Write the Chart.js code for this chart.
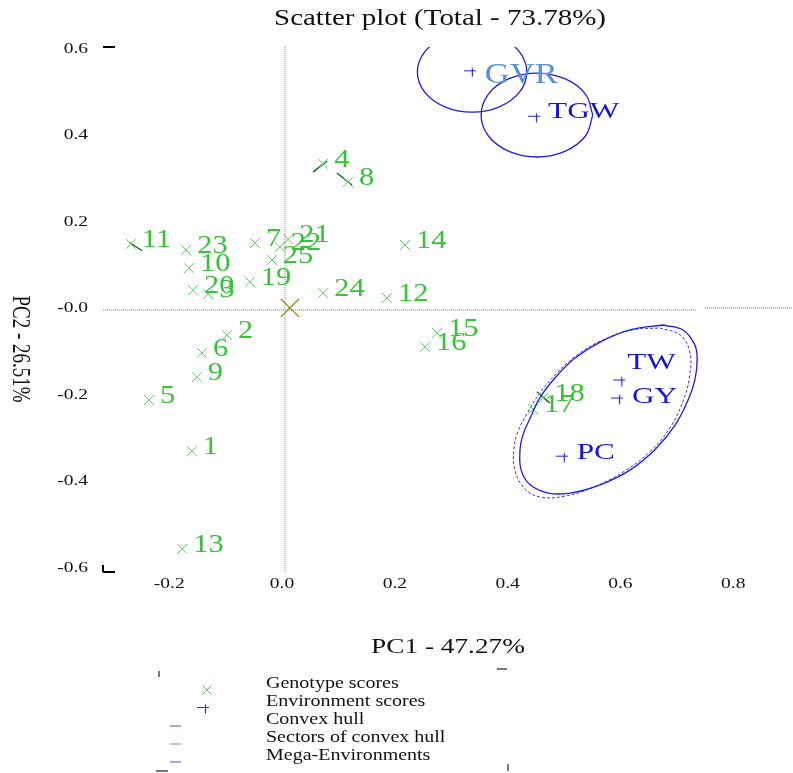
<!DOCTYPE html>
<html lang="en">
  <head>
    <meta charset="UTF-8" />
    <title>Scatter plot</title>
    <style>
      * {
        margin: 0;
        padding: 0;
      }
      body {
        background: white;
      }
      .chartBox {
        width: 793px;
        height: 773px;
      }
    </style>
  </head>
  <body>
    <div class="chartBox">
      <canvas id="myChart" width="793" height="773"></canvas>
    </div>

    <script src="https://cdn.jsdelivr.net/npm/chart.js"></script>
    <script>
      // genotype scores (PC1, PC2)
      const genoNames = ["1", "2", "3", "4", "5", "6", "7", "8", "9", "10", "11", "12", "13",
        "14", "15", "16", "17", "18", "19", "20", "21", "22", "23", "24", "25"];
      const genoX = [-0.160, -0.0975, -0.131, 0.073, -0.236, -0.142, -0.048, 0.117, -0.151,
        -0.165, -0.268, 0.186, -0.177, 0.218, 0.275, 0.2535, 0.445, 0.463, -0.057, -0.158,
        0.011, -0.004, -0.170, 0.073, -0.018];
      const genoY = [-0.332, -0.064, 0.031, 0.332, -0.214, -0.105, 0.149, 0.290, -0.161,
        0.091, 0.147, 0.022, -0.558, 0.1445, -0.059, -0.091, -0.235, -0.209, 0.059, 0.040,
        0.158, 0.140, 0.133, 0.0335, 0.110];

      // environment scores
      const envNames = ["GVR", "TGW", "TW", "GY", "PC"];
      const envX = [0.333, 0.447, 0.598, 0.594, 0.496];
      const envY = [0.545, 0.440, -0.170, -0.2116, -0.346];

      // origin of the sectors
      const originX = [0.014];
      const originY = [-0.001];

      // short convex hull pieces (null = break)
      const hullX = [-0.271, -0.248, null, 0.055, 0.080, null, 0.0975, 0.124, null, 0.452, 0.475];
      const hullY = [0.151, 0.131, null, 0.313, 0.339, null, 0.311, 0.283, null, -0.195, -0.221];

      // mega-environment outlines
      const gvrRingX = [0.337, 0.2885, 0.253, 0.240, 0.253, 0.2885, 0.337, 0.3855, 0.421, 0.434, 0.421, 0.3855, 0.337];
      const gvrRingY = [0.6375, 0.625, 0.591, 0.5445, 0.498, 0.464, 0.4515, 0.464, 0.498, 0.5445, 0.591, 0.625, 0.6375];
      const tgwRingX = [0.551, 0.538, 0.5015, 0.452, 0.4025, 0.366, 0.353, 0.366, 0.4025, 0.452, 0.5015, 0.538, 0.551];
      const tgwRingY = [0.445, 0.4935, 0.529, 0.542, 0.529, 0.4935, 0.445, 0.3965, 0.361, 0.348, 0.361, 0.3965, 0.445];
      const megaX = [0.6755, 0.711, 0.732, 0.736, 0.732, 0.720, 0.697, 0.661, 0.617, 0.564, 0.511,
        0.472, 0.440, 0.424, 0.422, 0.427, 0.440, 0.457, 0.484, 0.5195, 0.564, 0.617, 0.6755];
      const megaY = [-0.0405, -0.052, -0.087, -0.121, -0.168, -0.214, -0.272, -0.329, -0.376, -0.410, -0.429,
        -0.429, -0.410, -0.376, -0.329, -0.295, -0.2555, -0.209, -0.163, -0.117, -0.080, -0.052, -0.0405];
      const megaDashX = [0.670, 0.706, 0.723, 0.723, 0.713, 0.691, 0.656, 0.610, 0.557, 0.502, 0.457,
        0.429, 0.413, 0.411, 0.418, 0.436, 0.457, 0.486, 0.523, 0.569, 0.6205, 0.670];
      const megaDashY = [-0.0474, -0.0636, -0.103, -0.156, -0.209, -0.272, -0.329, -0.376, -0.413, -0.436, -0.438,
        -0.417, -0.376, -0.329, -0.288, -0.242, -0.198, -0.154, -0.110, -0.075, -0.052, -0.0474];

      // dotted reference lines
      const vLineX = [0.0053, 0.0053];
      const vLineY = [0.602, -0.614];
      const hLineX = [-0.3174, 0.736];
      const hLineY = [-0.0058, -0.0058];
      const hLine2X = [0.750, 0.906];
      const hLine2Y = [-0.001, -0.001];

      // axes
      const xTicks = [-0.2, 0.0, 0.2, 0.4, 0.6, 0.8];
      const xTickLabels = ["-0.2", "0.0", "0.2", "0.4", "0.6", "0.8"];
      const yTicks = [0.6, 0.4, 0.2, 0.0, -0.2, -0.4, -0.6];
      const yTickLabels = ["0.6", "0.4", "0.2", "-0.0", "-0.2", "-0.4", "-0.6"];

      const legendLabels = ["Genotype scores", "Environment scores", "Convex hull",
        "Sectors of convex hull", "Mega-Environments"];

      const SERIF = '"Liberation Serif", "Times New Roman", serif';
      const GREEN = "#38c238";
      const BLUE = "#1414dc";

      const pts = (xs, ys) => xs.map((x, i) => (x === null ? { x: null, y: null } : { x: x, y: ys[i] }));

      // environment marker: short "+" with the upright off to the right
      const envMark = document.createElement("canvas");
      envMark.width = 14;
      envMark.height = 11;
      const g = envMark.getContext("2d");
      g.strokeStyle = "#2424e0";
      g.lineWidth = 1.2;
      g.beginPath();
      g.moveTo(1, 4.5);
      g.lineTo(13, 4.5);
      g.moveTo(9.5, 1.5);
      g.lineTo(9.5, 10.5);
      g.stroke();

      // text drawn a little wider than the font, like the original export
      function wideText(ctx, text, x, y, size, color, align, sx) {
        ctx.save();
        ctx.translate(x, y);
        ctx.scale(sx, 1);
        ctx.font = size + "px " + SERIF;
        ctx.fillStyle = color;
        ctx.textAlign = align;
        ctx.textBaseline = "alphabetic";
        ctx.fillText(text, 0, 0);
        ctx.restore();
      }

      function seg(ctx, x1, y1, x2, y2, color, w) {
        ctx.save();
        ctx.strokeStyle = color;
        ctx.lineWidth = w;
        ctx.beginPath();
        ctx.moveTo(x1, y1);
        ctx.lineTo(x2, y2);
        ctx.stroke();
        ctx.restore();
      }

      const envOffsets = {
        GVR: [15, 11, 30, "#5b8fd8", 1.15],
        TGW: [14, 1, 24, BLUE, 1.3],
        TW: [8, -12, 24, BLUE, 1.3],
        GY: [15, 4, 24, BLUE, 1.3],
        PC: [15, 2, 24, BLUE, 1.3],
      };

      const labelPlugin = {
        id: "pointLabels",
        afterDatasetsDraw(chart) {
          const ctx = chart.ctx;
          const gm = chart.getDatasetMeta(6);
          gm.data.forEach((p, i) => {
            wideText(ctx, genoNames[i], p.x + 11, p.y + 3, 25, GREEN, "left", 1.22);
          });
          const em = chart.getDatasetMeta(7);
          em.data.forEach((p, i) => {
            const o = envOffsets[envNames[i]];
            wideText(ctx, envNames[i], p.x + o[0], p.y + o[1], o[2], o[3], "left", o[4]);
          });
        },
        afterDraw(chart) {
          const ctx = chart.ctx;
          const area = chart.chartArea;
          const xs = chart.scales.x;
          const ys = chart.scales.y;

          // title and axis titles
          wideText(ctx, "Scatter plot (Total - 73.78%)", 440, 25, 23, "#111", "center", 1.26);
          wideText(ctx, "PC1 - 47.27%", 448, 653, 21, "#111", "center", 1.3);
          ctx.save();
          ctx.translate(19, 349);
          ctx.scale(1.3, 1);
          ctx.rotate(Math.PI / 2);
          ctx.font = "19px " + SERIF;
          ctx.fillStyle = "#111";
          ctx.textAlign = "center";
          ctx.textBaseline = "middle";
          ctx.fillText("PC2 - 26.51%", 0, 0);
          ctx.restore();

          // tick labels
          xTicks.forEach((v, i) => {
            wideText(ctx, xTickLabels[i], xs.getPixelForValue(v), 588, 15, "#111", "center", 1.3);
          });
          yTicks.forEach((v, i) => {
            wideText(ctx, yTickLabels[i], 88, ys.getPixelForValue(v) + 5, 15, "#111", "right", 1.3);
          });
          // leftover tick marks at the plot corners
          seg(ctx, area.left, area.top, area.left + 12, area.top, "#000", 2);
          seg(ctx, area.left, area.bottom - 7, area.left, area.bottom, "#000", 2);
          seg(ctx, area.left, area.bottom, area.left + 12, area.bottom, "#000", 2);

          // legend
          const rows = [688, 706, 724, 742, 760];
          legendLabels.forEach((t, i) => {
            wideText(ctx, t, 266, rows[i], 16, "#111", "left", 1.25);
          });
          seg(ctx, 202.5, 685.5, 211.5, 694.5, "#55cc55", 1);
          seg(ctx, 202.5, 694.5, 211.5, 685.5, "#55cc55", 1);
          ctx.drawImage(envMark, 196, 703);
          seg(ctx, 170, 726, 181, 726, "#4f8f4f", 1.2);
          seg(ctx, 170, 744, 181, 744, "#a9a35a", 1.2);
          seg(ctx, 170, 762, 181, 762, "#6a6aee", 1.2);
          seg(ctx, 159, 671, 159, 677, "#222", 1.2);
          seg(ctx, 497, 669, 507, 669, "#222", 1.2);
          seg(ctx, 156, 771, 168, 771, "#222", 1.2);
          seg(ctx, 508, 764, 508, 771, "#222", 1.2);
        },
      };

      const dotted = {
        showLine: true,
        borderColor: "#808080",
        borderWidth: 1,
        borderDash: [1, 1],
        pointRadius: 0,
      };
      const ring = {
        showLine: true,
        borderColor: "#1c1ce4",
        borderWidth: 1.3,
        tension: 0.4,
        pointRadius: 0,
      };

      const ctx = document.getElementById("myChart");
      const myChart = new Chart(ctx, {
        type: "scatter",
        data: {
          datasets: [
            { ...dotted, data: pts(vLineX, vLineY) },
            { ...dotted, data: pts(hLineX, hLineY) },
            { ...dotted, data: pts(hLine2X, hLine2Y) },
            { ...ring, data: pts(gvrRingX, gvrRingY) },
            { ...ring, data: pts(tgwRingX, tgwRingY) },
            { ...ring, data: pts(megaX, megaY) },
            {
              label: "Genotype scores",
              data: pts(genoX, genoY),
              pointStyle: "crossRot",
              pointRadius: 7,
              pointBorderWidth: 1,
              borderColor: "#5ccc5c",
              backgroundColor: "#5ccc5c",
            },
            {
              label: "Environment scores",
              data: pts(envX, envY),
              pointStyle: envMark,
              pointRadius: 6,
            },
            {
              ...ring,
              borderDash: [3, 2],
              borderWidth: 1,
              borderColor: "#3a3aea",
              data: pts(megaDashX, megaDashY),
            },
            {
              label: "Convex hull",
              data: pts(hullX, hullY),
              showLine: true,
              spanGaps: false,
              borderColor: "#1d5a1d",
              borderWidth: 1.3,
              pointRadius: 0,
            },
            {
              label: "Sectors of convex hull",
              data: pts(originX, originY),
              pointStyle: "crossRot",
              pointRadius: 13,
              pointBorderWidth: 1.3,
              borderColor: "#9c8c1c",
            },
          ],
        },
        options: {
          responsive: false,
          devicePixelRatio: 1,
          animation: false,
          events: [],
          layout: {
            autoPadding: false,
            padding: { left: 103, right: 0, top: 47, bottom: 201 },
          },
          scales: {
            x: { type: "linear", display: false, min: -0.3174, max: 0.906 },
            y: { type: "linear", display: false, min: -0.6116, max: 0.6023 },
          },
          plugins: {
            legend: { display: false },
            tooltip: { enabled: false },
            title: { display: false },
          },
        },
        plugins: [labelPlugin],
      });
    </script>
  </body>
</html>
